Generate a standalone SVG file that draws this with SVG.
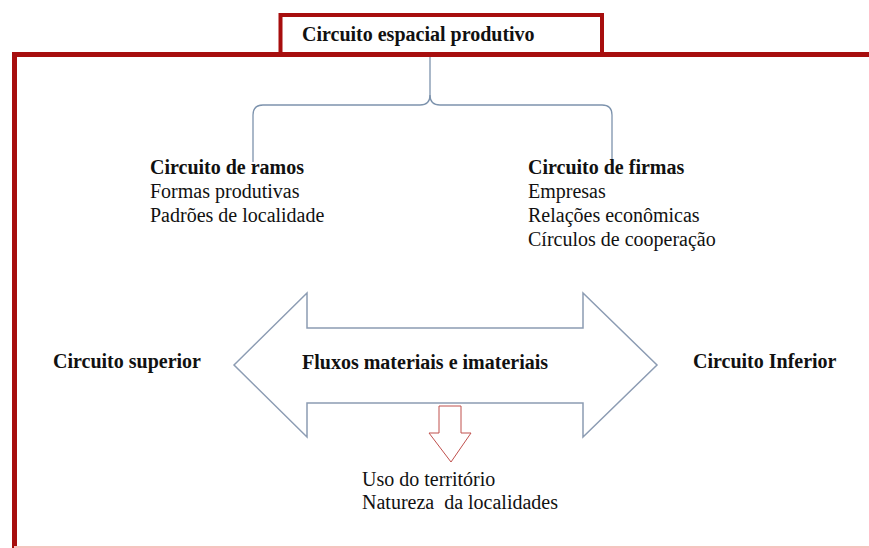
<svg xmlns="http://www.w3.org/2000/svg" width="869" height="548" viewBox="0 0 869 548">
<style>
.t{font-family:"Liberation Serif","Times New Roman",serif;font-size:20px;fill:#111;}
.b{font-weight:bold;}
.frame{fill:none;stroke:#a70e0e;}
.brace{fill:none;stroke:#7d93ad;stroke-width:1.3;}
</style>
<rect x="0" y="0" width="869" height="548" fill="#ffffff"/>
<g id="frame">
<path class="frame" d="M14.5 548 V54.5 H872" stroke-width="5"/>
<line x1="14" y1="547" x2="869" y2="547" stroke="#f5c4bf" stroke-width="2"/>
</g>
<g id="title">
<rect x="280.5" y="15" width="321.5" height="40" fill="#ffffff" class="frame" stroke-width="4"/>
<text class="t b" x="302" y="41">Circuito espacial produtivo</text>
</g>
<g id="connectors">
<path class="brace" d="M430 57 V95 Q430 105 420 105 H263 Q253 105 253 115 V162"/>
<path class="brace" d="M430 95 Q430 105 440 105 H602 Q612 105 612 115 V162"/>
</g>
<g id="ramos">
<text class="t b" x="150" y="174">Circuito de ramos</text>
<text class="t" x="150" y="198">Formas produtivas</text>
<text class="t" x="150" y="222">Padrões de localidade</text>
</g>
<g id="firmas">
<text class="t b" x="528" y="174">Circuito de firmas</text>
<text class="t" x="528" y="198">Empresas</text>
<text class="t" x="528" y="222">Relações econômicas</text>
<text class="t" x="528" y="246">Círculos de cooperação</text>
</g>
<g id="fluxos">
<polygon points="234,365 307,293 307,328 583,328 583,293 657,365 583,437 583,403 307,403 307,437" fill="#ffffff" stroke="#8c9cb3" stroke-width="1.5"/>
<text class="t b" x="302" y="369">Fluxos materiais e imateriais</text>
</g>
<g id="superior">
<text class="t b" x="53" y="368">Circuito superior</text>
</g>
<g id="inferior">
<text class="t b" x="693" y="368">Circuito Inferior</text>
</g>
<g id="seta">
<polygon points="439,406 461,406 461,433 471,433 451,462 429,433 439,433" fill="#ffffff" stroke="#c0504d" stroke-width="1"/>
</g>
<g id="territorio">
<text class="t" x="362" y="486">Uso do território</text>
<text class="t" x="362" y="509" xml:space="preserve">Natureza  da localidades</text>
</g>
</svg>
